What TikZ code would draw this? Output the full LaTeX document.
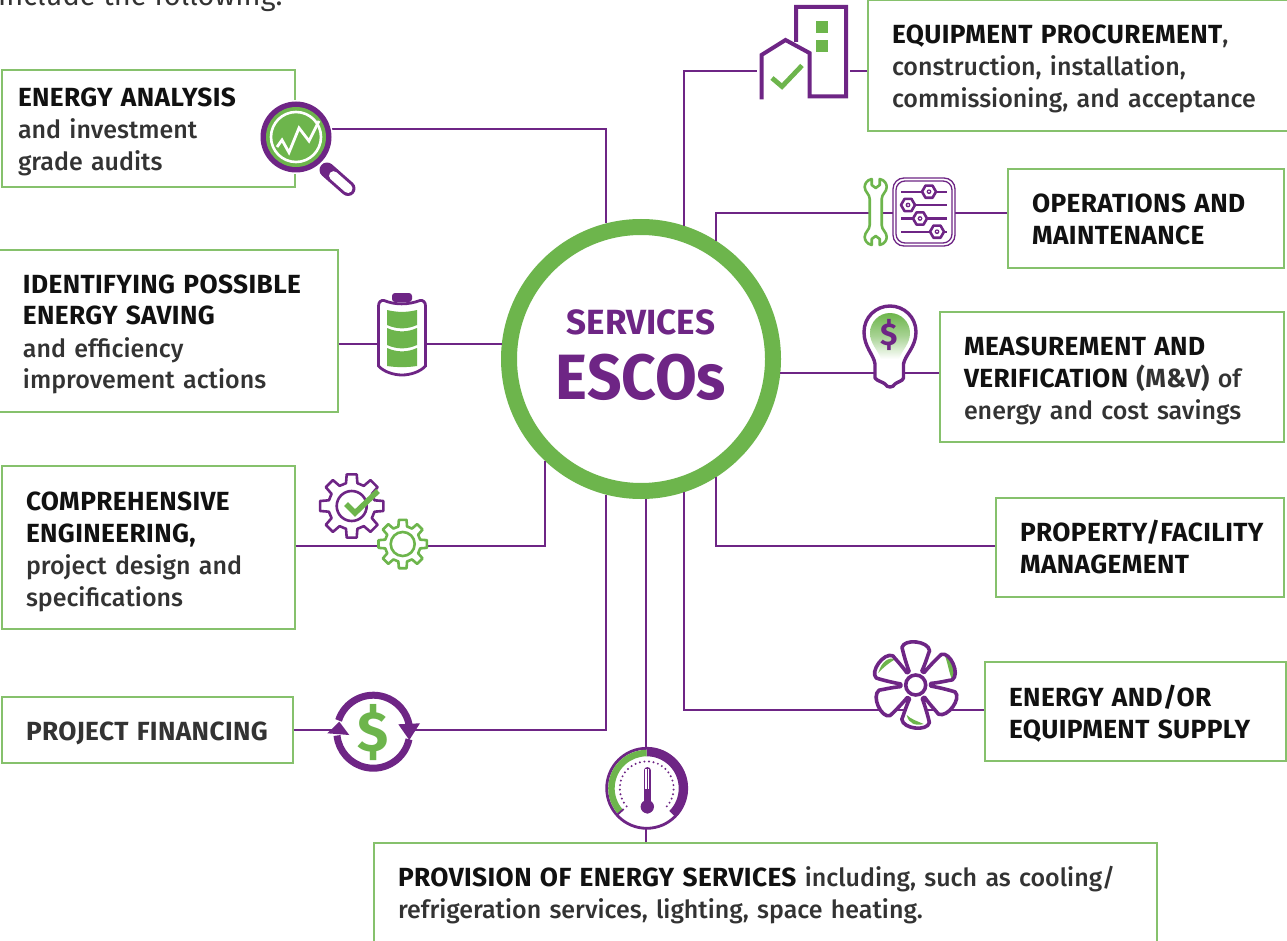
\documentclass[tikz,border=0pt]{standalone}
\usepackage{fontspec}
\setmainfont{Fira Sans Medium}[BoldFont={Fira Sans Bold},BoldFeatures={Scale=1.05,LetterSpace=1.5}]
\newfontfamily\hubSfont{Fira Sans Bold}
\newfontfamily\hubEfont{Fira Sans Bold}[FakeStretch=0.945]
\newfontfamily\introfont{Fira Sans}
\usetikzlibrary{calc}
\definecolor{pur}{HTML}{6E2585}
\definecolor{grn}{HTML}{6DB54C}
\definecolor{boxg}{HTML}{86C16C}
\definecolor{txt}{HTML}{333333}
\definecolor{blk}{HTML}{111111}
\newcommand{\hb}[1]{{\bfseries\color{blk}#1}}
\newcommand{\gb}[1]{{\bfseries\color{txt}#1}}
% name, x1, y1, x2, y2, text x, dy, lines
\newcommand{\boxnode}[8]{%
  \pgfmathsetmacro{\bxw}{#4-(#2)}%
  \pgfmathsetmacro{\bxh}{#5-(#3)}%
  \pgfmathsetmacro{\bxs}{#6-(#2)}%
  \pgfmathsetmacro{\bxt}{\bxw-2*\bxs}%
  \pgfmathsetmacro{\bxr}{26+2*(#7)}%
  \node[infobox, minimum height=\bxh pt, inner xsep=\bxs pt, text width=\bxt pt]
    (#1) at ({(#2+#4)/2},{-(#3+#5)/2}) {\leavevmode\rule{0pt}{\bxr pt}#8\rule[-8pt]{0pt}{8pt}};}
\newcommand{\gearicon}[6]{% x y ro ri rc colour
  \begin{scope}[shift={(#1,-#2)}]
    \draw[#6, line width=2.6, fill=white, line join=round]
      (-14:#4) \foreach \a in {0,45,...,315} {
        -- (\a-14:#4) -- (\a-9:#3) -- (\a+9:#3) -- (\a+14:#4) } -- cycle;
    \draw[#6, line width=2.6] (0,0) circle[radius=#5];
  \end{scope}}
\newcommand{\hexnut}[2]{%
  \draw[pur, line width=2.6, fill=white, line join=round]
    (#1,-#2) ++(0:7) -- ++(120:7) -- ++(180:7) -- ++(240:7) -- ++(300:7) -- ++(0:7) -- cycle;
  \fill[pur] (#1,-#2) circle[radius=2.4];
  \fill[white] (#1,-#2) circle[radius=1];}
\newcommand{\fanoutline}{%
  (6:15) \foreach \a in {30,90,...,330} {
    -- (\a-24:15) .. controls (\a-24:26) and (\a-22:32) .. (\a-22:37)
    .. controls (\a-16:46) and (\a+14:48) .. (\a+20:40)
    .. controls (\a+22:32) and (\a+24:22) .. (\a+26:15) } -- cycle}
\tikzset{
  x=1pt,y=1pt,
  infobox/.style={draw=boxg, line width=1.4, fill=white, align=left, inner ysep=0pt,
    text=txt, font=\fontsize{25}{32}\selectfont},
  link/.style={draw=pur, line width=2.3},
}
\begin{document}
\begin{tikzpicture}
\clip (0,0) rectangle (1287,-941);
\fill[white] (0,0) rectangle (1287,-941);
\node[anchor=base west, inner sep=0, text=txt, font=\introfont\fontsize{29}{36}\selectfont] (intro) at (-2,-6) {include the following:};
% boxes
\boxnode{b1}{2}{70}{295}{187}{18}{1}{\hb{ENERGY ANALYSIS}\\\mbox{and investment}\\\mbox{grade audits}}
\boxnode{b2}{-3}{250}{338}{412}{23}{1}{\mbox{\hb{IDENTIFYING POSSIBLE}}\\\hb{ENERGY SAVING}\\\mbox{and efficiency}\\\mbox{improvement actions}}
\boxnode{b3}{2}{466}{295}{629}{26}{1.5}{\hb{COMPREHENSIVE}\\\hb{ENGINEERING,}\\\mbox{project design and}\\\mbox{specifications}}
\boxnode{b4}{2}{697}{293}{763}{26}{1}{\mbox{\gb{PROJECT FINANCING}}}
\boxnode{b5}{374}{843}{1157}{943}{398}{0}{\mbox{\hb{PROVISION OF ENERGY SERVICES} including, such as cooling/}\\\mbox{refrigeration services, lighting, space heating.}}
\boxnode{b6}{868}{0}{1300}{131}{892}{1}{\mbox{\hb{EQUIPMENT PROCUREMENT},}\\\mbox{construction, installation,}\\\mbox{commissioning, and acceptance}}
\boxnode{b7}{1008}{169}{1284}{268}{1032}{1.5}{\hb{OPERATIONS AND}\\\hb{MAINTENANCE}}
\boxnode{b8}{940}{312}{1284}{442}{964}{1}{\mbox{\hb{MEASUREMENT AND}}\\\mbox{\hb{VERIFICATION} \gb{(M\&V)} of}\\\mbox{energy and cost savings}}
\boxnode{b9}{996}{498}{1284}{597}{1020}{.5}{\mbox{\hb{PROPERTY/FACILITY}}\\\hb{MANAGEMENT}}
\boxnode{b10}{985}{662}{1286}{761}{1009}{1.5}{\hb{ENERGY AND/OR}\\\mbox{\hb{EQUIPMENT SUPPLY}}}
% hub
\node[circle, draw=grn, line width=16, fill=white, minimum size=264pt, inner sep=0, align=center, text=pur, font=\fontsize{64}{65}\selectfont] (hub) at (641,-359)
  {{\hubSfont\fontsize{35}{65}\selectfont SERVICES}\\{\hubEfont\fontsize{64}{65}\selectfont ESCOs}\rule[-8pt]{0pt}{8pt}};
% connector anchors on the hub
\coordinate (h1) at (606,-223.4);
\coordinate (h2) at (502,-344);
\coordinate (h3) at (545,-460.9);
\coordinate (h4) at (606,-494.6);
\coordinate (h5) at (646,-499);
\coordinate (h6) at (684,-225.8);
\coordinate (h7) at (716,-240.8);
\coordinate (h8) at (780.3,-373);
\coordinate (h9) at (716,-477.2);
\coordinate (h10) at (684,-492.2);
% bends
\coordinate (p1) at (606,-129);
\coordinate (p3) at (545,-546);
\coordinate (p4) at (606,-730);
\coordinate (p6) at (684,-71);
\coordinate (p7) at (716,-213);
\coordinate (p9) at (716,-546);
\coordinate (p10) at (684,-710);
\coordinate (p6a) at (757,-71);
\coordinate (p6b) at (850,-71);
\draw[link] (b1.east |- p1) -- (p1) -- (h1);
\draw[link] (b2.east |- h2) -- (h2);
\draw[link] (b3.east |- p3) -- (p3) -- (h3);
\draw[link] (b4.east |- p4) -- (p4) -- (h4);
\draw[link] (h5) -- (h5 |- b5.north);
\draw[link] (h6) -- (p6) -- (p6a);
\draw[link] (p6b) -- (b6.west |- p6b);
\draw[link] (h7) -- (p7) -- (b7.west |- p7);
\draw[link] (h8) -- (b8.west |- h8);
\draw[link] (h9) -- (p9) -- (b9.west |- p9);
\draw[link] (h10) -- (p10) -- (b10.west |- p10);
% magnifier
\draw[pur, line width=15, line cap=round] (327,-170) -- (348,-188.5);
\draw[white, line width=9, line cap=round] (333.5,-175.7) -- (348,-188.5);
\fill[white] (296,-137) circle[radius=37];
\fill[pur] (296,-137) circle[radius=35.5];
\fill[grn] (296,-137) circle[radius=30];
\draw[white, line width=2.6] (296,-137) circle[radius=25];
\draw[white, line width=2.8, line join=miter] (277,-147) -- (282,-140) -- (289,-152.5) -- (299,-128) -- (309,-141) -- (319,-121);
% battery
\draw[pur, line width=2.8, fill=white] (378.5,-306) .. controls (378.5,-302) and (381,-300) .. (384,-300.5)
  .. controls (395,-305) and (408,-305) .. (420,-300.5) .. controls (423,-300) and (425.5,-302) .. (425.5,-306)
  -- (425.5,-366) .. controls (420,-372) and (410,-375) .. (402,-375) .. controls (394,-375) and (384,-372) .. (378.5,-366) -- cycle;
\fill[pur, rounded corners=3] (392,-293) rectangle (412,-302);
\fill[grn] (387,-310) .. controls (397,-312.5) and (407,-312.5) .. (417,-310) -- (417,-325) .. controls (407,-329.5) and (397,-329.5) .. (387,-325) -- cycle;
\fill[grn] (387,-328) .. controls (397,-332.5) and (407,-332.5) .. (417,-328) -- (417,-345) .. controls (407,-349.5) and (397,-349.5) .. (387,-345) -- cycle;
\fill[grn] (387,-348) .. controls (397,-352.5) and (407,-352.5) .. (417,-348) -- (417,-366) .. controls (407,-367.5) and (397,-367.5) .. (387,-366) -- cycle;
% gears
\gearicon{351.7}{506}{32}{23.5}{15}{pur}
\draw[grn, line width=5.5] (346,-504) -- (355,-513) -- (378,-491);
\gearicon{402.7}{544}{24.5}{18}{12}{grn}
% money
\fill[white] (373.3,-731.7) circle[radius=40];
\draw[pur, line width=7] (373.3,-731.7) ++(162:36.5) arc[start angle=162, end angle=10, radius=36.5];
\draw[pur, line width=7] (373.3,-731.7) ++(-12:36.5) arc[start angle=-12, end angle=-174, radius=36.5];
\fill[pur] (398.3,-724.3) -- (420,-723.3) -- (409.3,-740) -- cycle;
\fill[pur] (327.3,-733.3) -- (349.3,-735) -- (339.3,-721.7) -- cycle;
\node[inner sep=0, text=grn, font=\fontsize{54}{54}\bfseries\selectfont] (dollar) at (373.5,-733) {\$};
% thermometer
\begin{scope}[shift={(646.7,-788.3)}]
  \draw[pur, line width=2.8, fill=white] (0,0) circle[radius=40];
  \fill[pur] (90:41) arc[start angle=90, end angle=-45, radius=41] -- (-45:32) arc[start angle=-45, end angle=90, radius=32] -- cycle;
  \fill[grn] (90:38.5) arc[start angle=90, end angle=222, radius=38.5] -- (222:32) arc[start angle=222, end angle=90, radius=32] -- cycle;
  \draw[pur, line width=1.8] (222:40) -- (222:31);
  \draw[pur, line width=2.2, line cap=round, dash pattern=on 0pt off 4.6pt] (222:27) arc[start angle=222, end angle=-42, radius=27];
  \fill[white] (-4.5,24) rectangle (4.5,-30);
  \draw[pur, line width=6.5, line cap=round] (0.6,18) -- (0.6,-22);
  \fill[pur] (0.6,-18.4) circle[radius=6.7];
  \draw[white, line width=4] (0.6,-1) -- (0.6,19);
  \draw[pur, line width=1.2] (0.6,-1) -- (0.6,19);
\end{scope}
% fan
\begin{scope}[shift={(915.7,-685)}]
  \fill[white] \fanoutline;
  \fill[grn] (-37.4,12) .. controls (-34,24) and (-27,28) .. (-20,26) .. controls (-27,22) and (-32,18) .. (-37.4,12) -- cycle;
  \fill[grn] (29,30) .. controls (38,24) and (42,14) .. (36,6) .. controls (33,14) and (32,22) .. (29,30) -- cycle;
  \fill[grn] (-9,-30) .. controls (-7,-39) and (0,-41) .. (8,-39) .. controls (1,-36) and (-5,-34) .. (-9,-30) -- cycle;
  \draw[pur, line width=3.6, line join=round] \fanoutline;
  \draw[pur, line width=3.6, fill=white] (0,0) circle[radius=10];
\end{scope}
% bulb
\draw[pur, line width=3.4, fill=white, line join=round] (875,-378) -- (875,-364)
  .. controls (874,-355) and (864,-347) .. (864,-332) .. controls (864,-317) and (876,-306) .. (890,-306)
  .. controls (904,-306) and (916,-317) .. (916,-332) .. controls (916,-347) and (905,-355) .. (903.5,-364)
  -- (903.5,-378) .. controls (903,-381) and (897,-382) .. (895,-384) .. controls (893,-388) and (887,-388) .. (885,-384)
  .. controls (883,-382) and (877,-381) .. (875,-378) -- cycle;
\shade[top color=grn, bottom color=white, middle color=grn!60] (870,-333) .. controls (870,-322) and (879,-313) .. (890,-313)
  .. controls (901,-313) and (910,-322) .. (910,-333) .. controls (910,-344) and (902,-350) .. (899,-359) -- (881,-359)
  .. controls (878,-350) and (870,-344) .. (870,-333) -- cycle;
\node[inner sep=0, text=pur, font=\fontsize{30}{30}\bfseries\selectfont] (bulbdollar) at (889.3,-334.5) {\$};
% building
\draw[pur, line width=4, line join=miter] (796,-42) -- (796,-7) -- (846,-7) -- (846,-96.5) -- (809.5,-96.5) -- (809.5,-53) -- (785.5,-40) -- (761.5,-55) -- (761.5,-99.5);
\fill[grn] (816,-21) rectangle (828,-33);
\fill[grn] (816,-40) rectangle (828,-52);
\draw[grn, line width=4.8] (772,-78) -- (782,-86.5) -- (802,-65.5);
% wrench
\begin{scope}[shift={(875.7,-212)}]
  \draw[grn, line width=2.6, fill=white, line join=round] (0,24) -- (-4,27) -- (-4,33)
   .. controls (-9,32) and (-11,28) .. (-11,25) .. controls (-11,20) and (-6,18) .. (-6,13) -- (-6,-13)
   .. controls (-6,-18) and (-11,-20) .. (-11,-25) .. controls (-11,-28) and (-9,-32) .. (-4,-33) -- (-4,-27) -- (0,-24) -- (4,-27) -- (4,-33)
   .. controls (9,-32) and (11,-28) .. (11,-25) .. controls (11,-20) and (6,-18) .. (6,-13) -- (6,13)
   .. controls (6,18) and (11,20) .. (11,25) .. controls (11,28) and (9,32) .. (4,33) -- (4,27) -- cycle;
\end{scope}
% control panel
\draw[pur, line width=1.3, fill=white, rounded corners=11] (893,-178) rectangle (955,-246);
\draw[pur, line width=1.3, rounded corners=9] (896,-181) rectangle (952,-243);
\foreach \yy in {191.7,205,218.5,231.7} \draw[pur, line width=2.2] (901,-\yy) -- (947,-\yy);
\hexnut{929}{191.7}
\hexnut{908}{205}
\hexnut{920}{218.5}
\hexnut{937}{231.7}
\end{tikzpicture}
\end{document}
